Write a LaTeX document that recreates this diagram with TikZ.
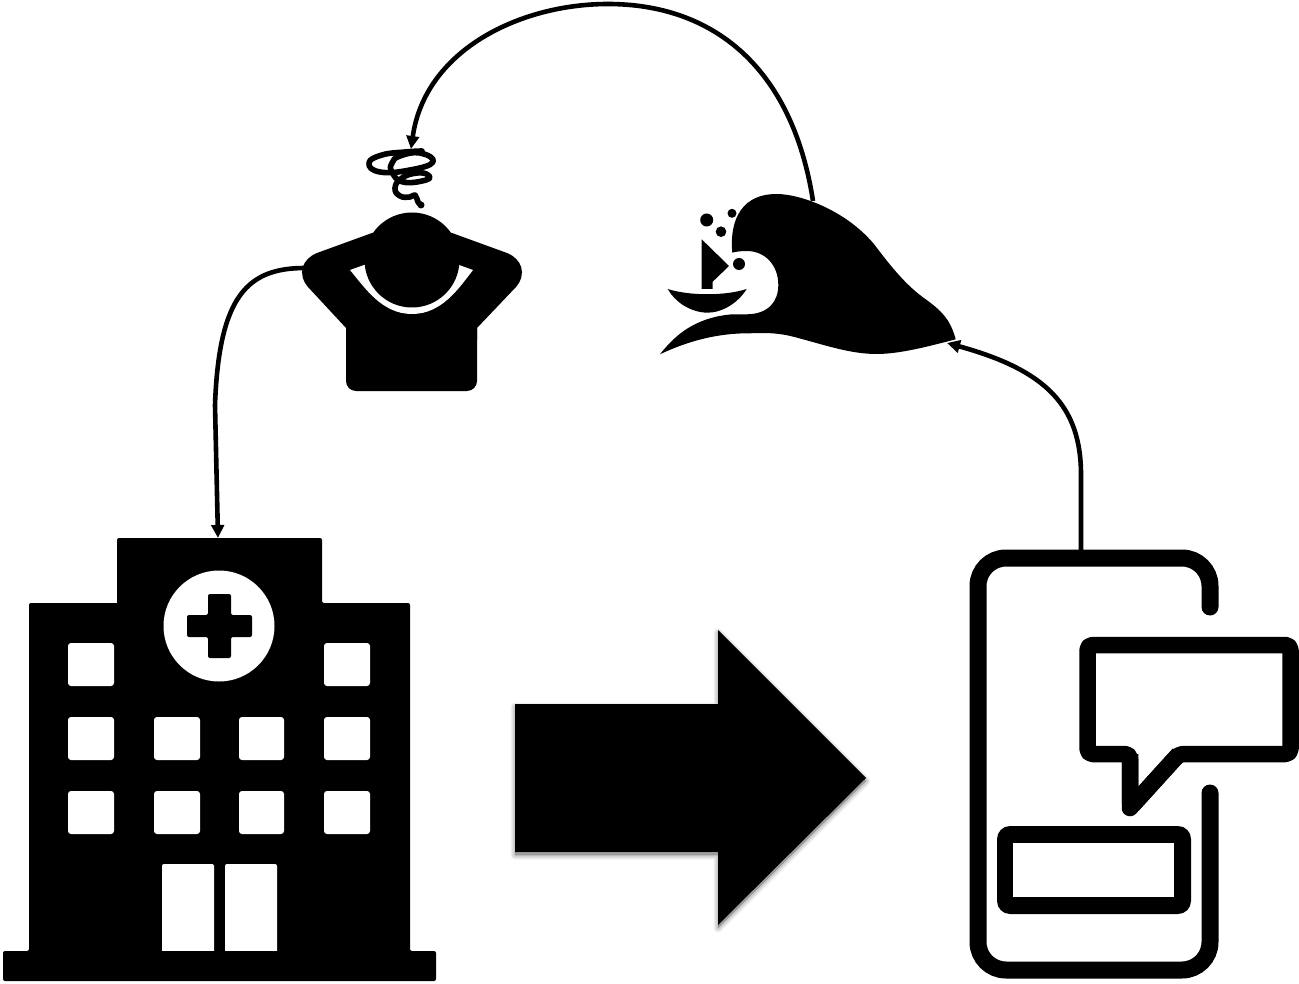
\documentclass[tikz,border=0pt]{standalone}
\usetikzlibrary{arrows.meta}
\tikzset{
  px/.style={x=1pt,y=-1pt},
  flow/.style={draw=black,line width=4.6pt,-{Triangle[length=13pt,width=12.5pt]}},
  bar/.style={draw=black,line width=17pt,line cap=round,rounded corners=28pt},
  frame/.style={draw=black,line width=16.5pt,line join=round,rounded corners=5pt},
  pane/.style={fill=white,rounded corners=3pt},
  ink/.style={fill=black},
  coil/.style={draw=black,line width=5.6pt,line cap=round,line join=round},
  glow/.style={draw=black,line join=round,opacity=0.05,fill=black}
}
\begin{document}
\begin{tikzpicture}[px]
\useasboundingbox (0,0) rectangle (1299,984);
\fill[white] (0,0) rectangle (1299,984);

% anchor coordinates for connectors
\coordinate (phoneTop) at (1081,552);
\coordinate (waveRight) at (947,343);
\coordinate (waveTop) at (813,201);
\coordinate (coilTop) at (411,149);
\coordinate (personLeft) at (305,268);
\coordinate (hospitalTop) at (218,538);

% connectors
\draw[flow] (phoneTop) -- (1081,475) .. controls (1081,405) and (1045,370) .. (waveRight);
\draw[flow] (waveTop) .. controls (792,66) and (712,4) .. (608,4) .. controls (520,4) and (425,50) .. (coilTop);
\draw[flow] (personLeft) .. controls (248,268) and (219,295) .. (215,405) -- (hospitalTop);

% hospital
\fill[ink,rounded corners=2pt] (117,610) -- (117,538) -- (322,538) -- (322,603) -- (410,603) -- (410,951) -- (436,951) -- (436,981) -- (3,981) -- (3,951) -- (29,951) -- (29,603) -- (117,603) -- cycle;
\fill[ink] (110,603) rectangle (330,615);
\fill[white] (219,626) circle (55.5);
\fill[ink,rounded corners=2pt] (208,594) -- (231,594) -- (231,615) -- (252,615) -- (252,637) -- (231,637) -- (231,658) -- (208,658) -- (208,637) -- (187,637) -- (187,615) -- (208,615) -- cycle;
\foreach \xa/\xb/\ya/\yb in {
  68/114/643/686, 324/370/643/686,
  68/114/717/760, 154/200/717/760, 239/284/717/760, 324/370/717/760,
  68/114/791/834, 154/200/791/834, 239/284/791/834, 324/370/791/834}
  \fill[pane] (\xa,\ya) rectangle (\xb,\yb);
\fill[white,rounded corners=2pt] (162,956) -- (162,864) -- (214,864) -- (214,956) -- cycle;
\fill[white,rounded corners=2pt] (225,956) -- (225,864) -- (277,864) -- (277,956) -- cycle;
\fill[ink] (150,951) rectangle (290,965);

% big arrow with soft shadow
\foreach \w in {9,7,5,3,1}
  \path[glow,line width=\w pt,yshift=-3pt] (515,704) -- (718,704) -- (718,630) -- (866,778) -- (718,925) -- (718,852) -- (515,852) -- cycle;
\fill[ink] (515,704) -- (718,704) -- (718,630) -- (866,778) -- (718,925) -- (718,852) -- (515,852) -- cycle;

% phone
\draw[bar] (1210,607) -- (1210,558) -- (978,558) -- (978,970) -- (1210,970) -- (1210,793);
\draw[frame] (1087.5,700) -- (1087.5,645) -- (1290.5,645) -- (1290.5,754) -- (1179,754) -- (1130,808) -- (1130,754) -- (1087.5,754) -- cycle;
\draw[draw=black,line width=16.5pt,line join=round] (1179,754) -- (1130,808) -- (1130,754);
\fill[ink,rounded corners=13pt] (997,826) rectangle (1191,914);
\fill[white] (1013,843) rectangle (1174,897);

% person
\fill[ink,rounded corners=10pt] (346,300) -- (346,391) -- (477,391) -- (477,300) -- cycle;
\fill[ink] (372,233) -- (317,253) .. controls (302,259) and (297,274) .. (308,287) -- (346,328) -- (346,340) -- (477,340) -- (477,328) -- (516,287) .. controls (527,274) and (522,259) .. (507,253) -- (452,233) -- cycle;
\fill[white] (350,270) .. controls (365,288) and (382,314) .. (412,314) .. controls (442,314) and (459,288) .. (473,270) -- (459,265) -- (364,265) -- cycle;
\fill[ink] (412,260) circle (47.5);

% dizzy coil
\draw[coil] plot[smooth,tension=0.8] coordinates {(422,151) (405,152) (382,155) (369,163) (380,172) (410,170) (433,162) (420,153) (400,156) (392,163) (392,172) (403,182) (426,180) (428,175) (417,173) (402,178) (395,188) (400,196) (410,197) (415,195) (418,202) (421,205)};
\fill[ink] (421,205) circle (3.5);

% wave
\fill[ink] (660,354.3) .. controls (675,335) and (695,318) .. (730,314.5)
 .. controls (737,314) and (742,314.5) .. (747,314.3)
 .. controls (768,314) and (778.3,302) .. (778.3,285)
 .. controls (778.3,265) and (765,251) .. (746.7,251)
 .. controls (742,251) and (736,251.5) .. (732.3,252.7)
 .. controls (730,230) and (735,194) .. (776.7,194)
 .. controls (800,194) and (845,210) .. (873.3,243.3)
 .. controls (890,265) and (905,285) .. (926.7,300)
 .. controls (940,310) and (950,318) .. (955.7,339.3)
 .. controls (930,346) and (900,354) .. (876.7,354)
 .. controls (850,354) and (825,345) .. (793.3,336.7)
 .. controls (775,332) and (760,333) .. (750,333.3)
 .. controls (720,333) and (690,340) .. (660,354.3) -- cycle;

% boat
\fill[ink] (701.7,239.3) -- (729,266) -- (712.7,281.7) -- (712.7,289) -- (701.7,289) -- cycle;
\fill[ink] (667.7,289) .. controls (690,296) and (725,296) .. (746.7,289) .. controls (738,303) and (722,313) .. (706.7,312.7) .. controls (690,312) and (675,302) .. (667.7,289) -- cycle;
\fill[ink] (706.7,220) circle (6.5);
\fill[ink] (721,231.7) circle (5.3);
\fill[ink] (732,213.3) circle (4.5);
\fill[ink] (739,264) circle (6);
\end{tikzpicture}
\end{document}
